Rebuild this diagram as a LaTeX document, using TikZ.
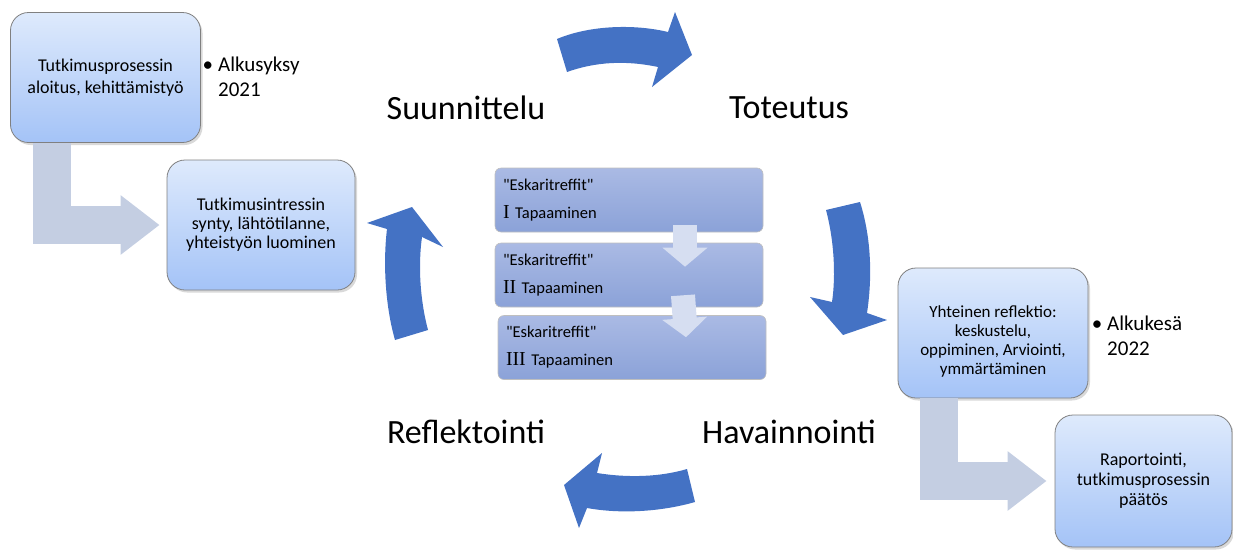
\documentclass[tikz,border=0pt]{standalone}
\usepackage{fontspec}
\setmainfont{Carlito}
\newfontfamily\romanfont[Scale=1.2]{Liberation Serif}
\usetikzlibrary{arrows.meta}
\usetikzlibrary{shadows}
\definecolor{cycleblue}{RGB}{68,114,196}
\definecolor{boxtop}{RGB}{222,234,252}
\definecolor{boxbot}{RGB}{164,195,247}
\definecolor{meettop}{RGB}{170,186,228}
\definecolor{meetbot}{RGB}{139,162,216}
\definecolor{elbowgray}{RGB}{196,206,226}
\definecolor{stepgray}{RGB}{214,222,241}
\tikzset{
    stagebox/.style={draw=black!50,line width=0.8pt,rounded corners=18pt,top color=boxtop,bottom color=boxbot,
        minimum width=190pt,minimum height=130pt,inner sep=0pt,align=center,
        drop shadow={opacity=0.3,shadow xshift=2pt,shadow yshift=-2.5pt}},
    meetbox/.style={draw=black!25,line width=0.6pt,rounded corners=6pt,top color=meettop,bottom color=meetbot,
        text width=252pt,inner xsep=8pt,minimum height=64pt,align=left,font=\fontsize{16.5}{28}\selectfont},
    phase/.style={font=\fontsize{34}{40}\selectfont},
    when/.style={align=left,anchor=west,inner sep=0pt,font=\fontsize{21}{25}\selectfont},
    elbow/.style={elbowgray,line width=38pt,-{Triangle[length=39pt,width=57pt]}},
    steparrow/.style={stepgray,line width=24pt,-{Triangle[length=19pt,width=44pt]}}
}
\newcommand\dq{\textquotedbl}
\begin{document}
\begin{tikzpicture}[x=1pt,y=-1pt]
\useasboundingbox (0,0) rectangle (1233,555);
% start and end of the study
\node[stagebox,font=\fontsize{18}{22}\selectfont] (start) at (105.5,77.5) {Tutkimusprosessin\\aloitus, kehittämistyö};
\node[stagebox,minimum width=188pt,font=\fontsize{18}{19}\selectfont] (interest) at (261,225) {Tutkimusintressin\\synty, lähtötilanne,\\yhteistyön luominen};
\node[stagebox,text height=85pt,font=\fontsize{17}{19}\selectfont] (joint) at (993,333) {Yhteinen reflektio:\\keskustelu,\\oppiminen, Arviointi,\\ymmärtäminen};
\node[stagebox,minimum width=177pt,minimum height=132pt,font=\fontsize{18}{20}\selectfont] (report) at (1143.5,481) {Raportointi,\\tutkimusprosessin\\päätös};
\node[when] (autumn) at (218,77) {\llap{•\hspace{5pt}}Alkusyksy\\2021};
\node[when] (summer) at (1107,336) {\llap{•\hspace{5pt}}Alkukesä\\2022};
\draw[elbow] ([xshift=41.5pt]start.south west) |- ([xshift=-7pt]interest.west);
\draw[elbow] ([xshift=41pt]joint.south west) |- ([xshift=-8pt]report.west);
% the cycle
\node[phase] (plan) at (466,108) {Suunnittelu};
\node[phase] (act) at (789,108) {Toteutus};
\node[phase] (observe) at (789,432) {Havainnointi};
\node[phase] (reflect) at (466,432) {Reflektointi};
\fill[cycleblue] (557,39) .. controls (590,25) and (635,24) .. (668,32) -- (675,12) -- (692,55) -- (652,87) -- (658,67) .. controls (625,60) and (595,62) .. (567,72) -- cycle;
\fill[cycleblue] (826,210) -- (860,202) .. controls (872,240) and (872,280) .. (867,313) -- (887,320) -- (843,335) -- (810,297) -- (832,302) .. controls (836,275) and (834,240) .. (826,210) -- cycle;
\fill[cycleblue] (687,469) -- (695,502) .. controls (660,512) and (620,514) .. (587,508) -- (579,528) -- (564,485) -- (602,453) -- (597,473) .. controls (628,478) and (660,477) .. (687,469) -- cycle;
\fill[cycleblue] (395,340) .. controls (385,305) and (383,262) .. (387,229) -- (367,223) -- (412,207) -- (443,247) -- (422,237) .. controls (418,265) and (420,300) .. (428,330) -- cycle;
% meetings
\node[meetbox] (meet1) at (629,200) {\dq Eskaritreffit\dq\\{\romanfont I} Tapaaminen};
\node[meetbox] (meet2) at (629,275) {\dq Eskaritreffit\dq\\{\romanfont II} Tapaaminen};
\node[meetbox] (meet3) at (632,347.5) {\dq Eskaritreffit\dq\\{\romanfont III} Tapaaminen};
\draw[steparrow] ([xshift=56pt,yshift=7pt]meet1.south) -- ([xshift=56pt,yshift=-24pt]meet2.north);
\draw[steparrow] ([xshift=54pt,yshift=12pt]meet2.south) -- ([xshift=54pt,yshift=-22pt]meet3.north);
\end{tikzpicture}
\end{document}
